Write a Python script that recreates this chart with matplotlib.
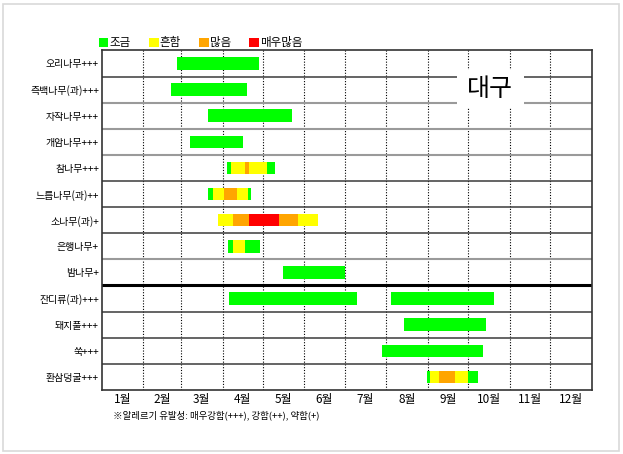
import matplotlib
matplotlib.use('Agg')
import matplotlib.pyplot as plt
from matplotlib.patches import Patch, Rectangle

plt.rcParams['font.family'] = ['Noto Sans CJK KR', 'DejaVu Sans']
plt.rcParams['axes.unicode_minus'] = False

# 데이터
species = ['오리나무+++', '측백나무(과)+++', '자작나무+++', '개암나무+++',
           '참나무+++', '느릅나무(과)++', '소나무(과)+', '은행나무+', '밤나무+',
           '잔디류(과)+++', '돼지풀+++', '쑥+++', '환삼덩굴+++']

# 각 행의 구간: (시작일, 끝일, 등급)  등급 0=조금 1=흔함 2=많음 3=매우많음
segments = [
    [(56, 117, 0)],
    [(52, 108, 0)],
    [(79, 142, 0)],
    [(66, 105, 0)],
    [(93, 96, 0), (96, 107, 1), (107, 110, 2), (110, 123, 1), (123, 129, 0)],
    [(79, 83, 0), (83, 91, 1), (91, 101, 2), (101, 109, 1), (109, 111, 0)],
    [(87, 98, 1), (98, 110, 2), (110, 132, 3), (132, 146, 2), (146, 161, 1)],
    [(94, 98, 0), (98, 107, 1), (107, 118, 0)],
    [(135, 181, 0)],
    [(95, 190.5, 0), (215.5, 292, 0)],
    [(225, 286, 0)],
    [(209, 284, 0)],
    [(242.5, 244.5, 0), (244.5, 251, 1), (251, 263, 2), (263, 273, 1), (273, 280, 0)],
]

level_names = ['조금', '흔함', '많음', '매우많음']
level_colors = ['#00ff00', '#ffff00', '#ffa500', '#ff0000']

months = ['1월', '2월', '3월', '4월', '5월', '6월', '7월', '8월', '9월', '10월', '11월', '12월']
month_start = [0, 31, 59, 90, 120, 151, 181, 212, 243, 273, 304, 334, 365]

city = '대구'
note = '※알레르기 유발성: 매우강함(+++), 강함(++), 약함(+)'

# --- 그림 ---
fig = plt.figure(figsize=(6.23, 4.54), dpi=100)
ax = fig.add_axes([0.1632, 0.141, 0.7866, 0.748])

# 바깥 테두리
fig.patches.append(Rectangle((0.0048, 0.0066), 0.9888, 0.9846, transform=fig.transFigure,
                             fill=False, edgecolor='#d9d9d9', linewidth=1.2))

# 월 경계 점선
for d in month_start[1:-1]:
    ax.axvline(d, color='black', linestyle=(0, (1, 1.5)), linewidth=0.8, zorder=1)

# 행 구분선
grey_rows = [2, 3, 4, 8]
for i in range(1, len(species)):
    if i == 9:
        ax.axhline(i, color='black', linewidth=2.2, zorder=2)
    elif i in grey_rows:
        ax.axhline(i, color='#9a9a9a', linewidth=1.5, zorder=2)
    else:
        ax.axhline(i, color='#3a3a3a', linewidth=1.1, zorder=2)

# 막대
for i, segs in enumerate(segments):
    for s, e, lv in segs:
        ax.barh(i + 0.5, e - s, left=s, height=0.48, color=level_colors[lv],
                edgecolor='none', zorder=3)

ax.set_xlim(0, 365)
ax.set_ylim(len(species), 0)

ax.set_yticks([i + 0.5 for i in range(len(species))])
ax.set_yticklabels(species, fontsize=7.2)
ax.tick_params(axis='y', length=0, pad=2)

mid = [(month_start[k] + month_start[k + 1]) / 2 for k in range(12)]
ax.set_xticks(mid)
ax.set_xticklabels(months, fontsize=8.5)
ax.tick_params(axis='x', length=0, pad=2)

for sp in ax.spines.values():
    sp.set_color('#333333')
    sp.set_linewidth(1.2)

# 지역명
ax.add_patch(Rectangle((0.7257, 0.8294), 0.1363, 0.1116, transform=ax.transAxes,
                       facecolor='white', edgecolor='none', zorder=4))
ax.text(0.7925, 0.885, city, transform=ax.transAxes, fontsize=18,
        ha='center', va='center', zorder=5)

# 범례
handles = [Patch(facecolor=c, edgecolor='none', label=n) for c, n in zip(level_colors, level_names)]
ax.legend(handles=handles, loc='lower left', bbox_to_anchor=(-0.005, 1.003), ncol=4,
          frameon=False, fontsize=8.3, handlelength=0.8, handleheight=0.9,
          handletextpad=0.1, columnspacing=1.6, borderaxespad=0, borderpad=0)

fig.text(113 / 623, 1 - 415 / 454, note, fontsize=6.8, ha='left', va='center')

fig.savefig('out.png', dpi=100)
